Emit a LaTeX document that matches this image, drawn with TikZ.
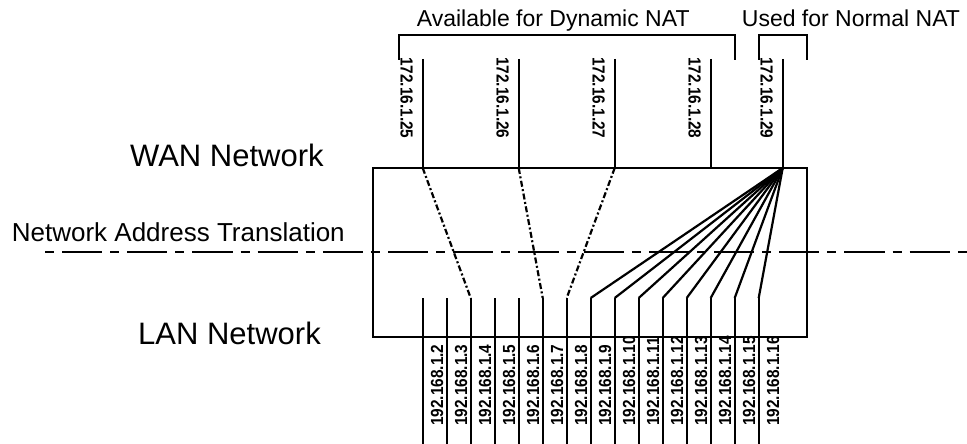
\documentclass[tikz,border=0pt]{standalone}
\usepackage{fontspec}
\setmainfont{Liberation Sans}
\newcommand{\ipl}[1]{\scalebox{0.88}[1]{#1}}
\begin{document}
\begin{tikzpicture}[x=1pt,y=-1pt,
  ln/.style={line width=2.2pt},
  dd/.style={line width=2.2pt, dash pattern=on 6pt off 2.5pt on 2pt off 2.5pt},
  dashdotline/.style={line width=2.2pt, dash pattern=on 9pt off 8pt on 40.2pt off 8pt},
  toplbl/.style={font=\fontsize{17.5}{17.5}\selectfont\bfseries, rotate=-90, anchor=west, inner sep=0pt},
  botlbl/.style={font=\fontsize{17.5}{17.5}\selectfont\bfseries, rotate=90, anchor=west, inner sep=0pt},
  bigtxt/.style={font=\fontsize{31}{31}\selectfont, inner sep=0pt, anchor=base west},
  midtxt/.style={font=\fontsize{26}{26}\selectfont, inner sep=0pt, anchor=base west},
  captxt/.style={font=\fontsize{23}{23}\selectfont, inner sep=0pt, anchor=base west},
]
\useasboundingbox (0,0) rectangle (967,444);

% box
\draw[ln] (373,168) rectangle (807,337);

% dash-dot NAT line
\coordinate (natL) at (45,251.7);
\coordinate (natR) at (967,251.7);
\draw[dashdotline] (natL) -- (natR);

% brackets
\draw[ln] (399,60) -- (399,35) -- (735,35) -- (735,60);
\draw[ln] (759.3,60) -- (759.3,35) -- (806.7,35) -- (806.7,60);

% captions
\node[captxt] (avail) at (416.7,26.7) {Available for Dynamic NAT};
\node[captxt] (used) at (741.7,26.7) {Used for Normal NAT};
\node[bigtxt] (wan) at (130,166) {WAN Network};
\node[midtxt] (nat) at (11.7,241.7) {Network Address Translation};
\node[bigtxt] (lan) at (138,344) {LAN Network};

% top (WAN) addresses
\foreach \n/\x in {25/422.7,26/518.7,27/614.7,28/710.7,29/782.7} {
  \coordinate (u\n) at (\x,59);
  \coordinate (t\n) at (\x,168);
  \draw[ln] (u\n) -- (t\n);
  \node[toplbl] (lt\n) at (\x-16,57) {\ipl{172.16.1.\n}};
}

% bottom (LAN) addresses
\foreach \i in {2,...,16} {
  \coordinate (b\i) at ({422.7+24*(\i-2)},298);
  \coordinate (e\i) at ({422.7+24*(\i-2)},444);
  \draw[ln] (b\i) -- (e\i);
  \node[botlbl] (lb\i) at ({437.2+24*(\i-2)},426) {\ipl{192.168.1.\i}};
}

% dynamic NAT mappings
\draw[dd] (t25) -- (b4);
\draw[dd] (t26) -- (b7);
\draw[dd] (t27) -- (b8);

% normal NAT (overload) mappings
\foreach \i in {9,...,16} {
  \draw[ln, line join=round] (t29) -- (b\i);
}
\end{tikzpicture}
\end{document}
